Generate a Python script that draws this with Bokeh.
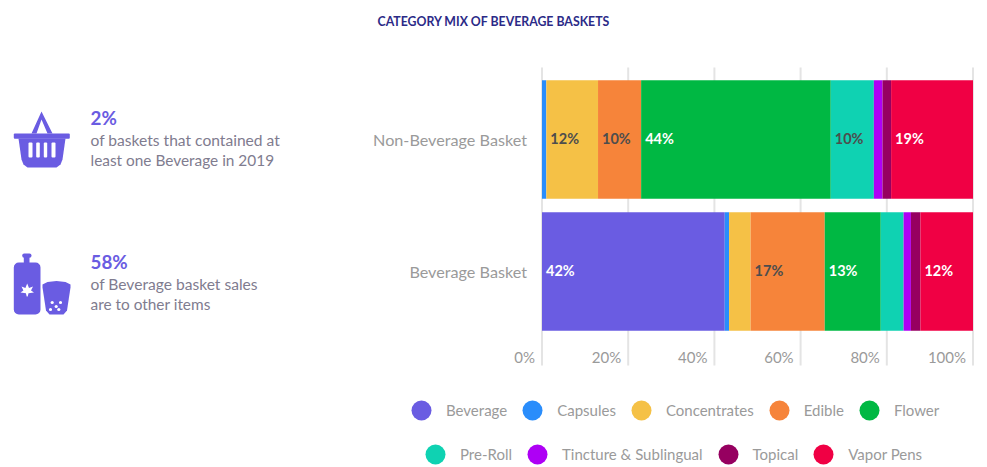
from bokeh.plotting import figure
from bokeh.models import (Range1d, FixedTicker, Label, PolyAnnotation, BoxAnnotation, Legend, LegendItem,
                          ColumnDataSource)
from bokeh.core.properties import value
from bokeh.embed import file_html
from bokeh.resources import INLINE

FONT = "Lato"
baskets = ["Beverage Basket", "Non-Beverage Basket"]
series = ["Beverage", "Capsules", "Concentrates", "Edible", "Flower", "Pre-Roll",
          "Tincture & Sublingual", "Topical", "Vapor Pens"]
colors = ["#6a5ce2", "#2a8dfb", "#f5c146", "#f6843a", "#00b843", "#0fd2b2", "#ae00f5", "#960060", "#f00044"]
beverage_basket = [42.4, 1.0, 5.0, 17.2, 13.0, 5.3, 1.7, 2.2, 12.2]
non_beverage_basket = [0.0, 1.0, 12.0, 10.0, 44.0, 10.0, 2.0, 2.0, 19.0]
label_dark = {"Concentrates", "Edible", "Pre-Roll"}
x_ticks = [0, 20, 40, 60, 80, 100]
legend_rows = [series[:5], series[5:]]

W, H = 987, 467
T = 30
GREY, TEXT2, PURPLE = "#9a9a9a", "#7f7c8f", "#6a5ce2"
X0, XU = 541.5, 4.31
Y0, YU = 271.0, 132.0


def dx(px):
    return (px - X0) / XU


def dy(py):
    return (Y0 - py) / YU


p = figure(width=W, height=H, output_backend="svg", toolbar_location=None,
           x_range=Range1d(dx(0), dx(W)), y_range=Range1d(dy(H), dy(T)),
           min_border_left=0, min_border_right=0, min_border_top=T, min_border_bottom=0,
           outline_line_color=None, title="CATEGORY MIX OF BEVERAGE BASKETS")
p.title.text_font = FONT
p.title.text_font_size = "12.3px"
p.title.text_font_style = "bold"
p.title.text_color = "#2b2a87"
p.title.align = "left"
p.title.offset = 377
p.title.standoff = 4

p.xaxis.visible = False
p.grid.visible = False

ax = p.yaxis[0]
ax.fixed_location = 0
ax.ticker = FixedTicker(ticks=[0, 1])
ax.major_label_overrides = {0: baskets[0], 1: baskets[1]}
ax.axis_line_color = None
ax.major_tick_line_color = None
ax.minor_tick_line_color = None
ax.major_label_standoff = 9
ax.major_label_text_font = FONT
ax.major_label_text_font_size = "16.2px"
ax.major_label_text_color = GREY

# grid lines
p.segment(x0=x_ticks, x1=x_ticks, y0=[dy(67)] * 6, y1=[dy(365)] * 6, line_color="#e4e4e4", line_width=2)

data = {"y": [0, 1]}
for name, a, b in zip(series, beverage_basket, non_beverage_basket):
    data[name] = [a, b]
source = ColumnDataSource(data)
p.hbar_stack(series, y="y", height=118.5 / 132, color=colors, source=source, line_width=0)

# value labels inside the stacks
for row, vals in enumerate([beverage_basket, non_beverage_basket]):
    left = 0.0
    for name, v in zip(series, vals):
        if round(v) >= 10:
            p.text(x=[left], y=[row], text=[f"{round(v)}%"], x_offset=4, y_offset=-1,
                   text_font=value(FONT), text_font_size="14.5px", text_font_style="bold",
                   text_baseline="middle", text_align="left",
                   text_color="#4d4d4d" if name in label_dark else "#ffffff")
        left += v


def sy(py):
    return H - py


def label(px, py, text, size, color, bold=False):
    p.add_layout(Label(x=px, y=sy(py), x_units="screen", y_units="screen", text=text,
                       text_font=FONT, text_font_size=f"{size}px", text_color=color,
                       text_font_style="bold" if bold else "normal", text_baseline="middle"))


def poly(pts, color=PURPLE):
    p.add_layout(PolyAnnotation(xs=[a for a, _ in pts], ys=[sy(b) for _, b in pts],
                                xs_units="screen", ys_units="screen", fill_color=color, fill_alpha=1,
                                line_color=None, level="overlay"))


def rbox(l, t, r, b, rad, color=PURPLE):
    p.add_layout(BoxAnnotation(left=l, right=r, top=sy(t), bottom=sy(b),
                               left_units="screen", right_units="screen", top_units="screen",
                               bottom_units="screen", fill_color=color, fill_alpha=1, line_color=None,
                               border_radius=int(round(rad)), level="overlay", editable=False))


# x tick labels, right aligned against their grid lines
for t in x_ticks:
    p.add_layout(Label(x=t, y=sy(356.5), x_units="data", y_units="screen", x_offset=-7, text=f"{t}%",
                       text_align="right", text_baseline="middle", text_font=FONT,
                       text_font_size="15px", text_color=GREY))

# stat callouts
label(90, 117, "2%", 18.8, PURPLE, True)
label(90, 139, "of baskets that contained at", 15.6, TEXT2)
label(90, 159, "least one Beverage in 2019", 15.4, TEXT2)
label(90, 261, "58%", 18.8, PURPLE, True)
label(90, 283, "of Beverage basket sales", 15.6, TEXT2)
label(90, 303, "are to other items", 15.4, TEXT2)

# basket icon
poly([(41, 111), (31, 133), (36, 133), (41, 119), (47, 133), (52, 133)])
rbox(13.3, 133, 69.3, 138.3, 1)
poly([(18, 138), (65, 138), (62, 159), (60, 164), (56, 167), (27, 167), (23, 164), (21, 159)])
for l, r in [(28, 32), (35.7, 39.3), (43.3, 46.7), (51, 55)]:
    rbox(l, 142, r, 157, 1, "#ffffff")

# bottle and cup icon
rbox(21.7, 253, 31, 257.3, 2)
rbox(23.3, 256, 29, 264, 0)
rbox(13.3, 262, 40, 314, 5)
poly([(26.7, 283), (28.5, 287.5), (32.5, 286), (30.5, 290), (33.5, 292), (28, 292.8), (27.2, 296), (26.2, 296),
      (25.4, 292.8), (20, 292), (22.9, 290), (21, 286), (24.9, 287.5)], "#ffffff")
poly([(42, 284), (47, 281.5), (56, 280.5), (65, 281.5), (70, 284), (70, 287), (66.5, 310), (63, 314),
      (49, 314), (45.5, 310), (42, 287)])
for cx, cy in [(51.7, 302), (60, 302), (55.7, 306), (50, 309), (58.3, 309)]:
    rbox(cx - 1.6, cy - 1.6, cx + 1.6, cy + 1.6, 2, "#ffffff")

# legend (two centred rows)
legend_at = [(421, 410), (435, 454)]
for names, (lx, ly) in zip(legend_rows, legend_at):
    items = []
    for n in names:
        r = p.circle(x=[-999], y=[-999], radius=1, color=colors[series.index(n)], line_width=0)
        items.append(LegendItem(label=n, renderers=[r]))
    lg = Legend(items=items, orientation="horizontal", location=(lx - 25, H - ly - 25),
                glyph_width=50, glyph_height=50, label_standoff=-4, spacing=-2, padding=0, margin=0,
                border_line_color=None, background_fill_alpha=0, label_text_font=FONT,
                label_text_font_size="15px", label_text_color=GREY)
    p.add_layout(lg)

open("out.html", "w").write(file_html(p, INLINE))
